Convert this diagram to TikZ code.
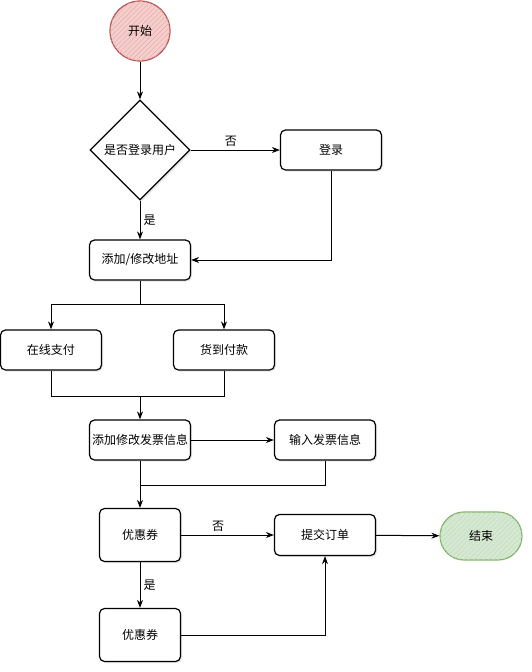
\documentclass[tikz,border=0pt]{standalone}
\usepackage{fontspec}
\newfontfamily\cjk{Noto Sans CJK SC}
\usetikzlibrary{arrows.meta,shapes.geometric,shadows,patterns.meta}
\definecolor{startfill}{HTML}{F8CECC}
\definecolor{startline}{HTML}{B85450}
\definecolor{endfill}{HTML}{D5E8D4}
\definecolor{endline}{HTML}{82B366}
\tikzset{
  txt/.style={font=\cjk\fontsize{12}{14}\selectfont},
  shade/.style={drop shadow={opacity=0.2, shadow xshift=1.5pt, shadow yshift=-1.5pt}},
  stepbox/.style={txt, draw, line width=1.2pt, rounded corners=5pt, fill=white,
    minimum width=101pt, minimum height=40pt, inner sep=0pt, shade},
  couponbox/.style={stepbox, minimum width=81pt, minimum height=53pt},
  decision/.style={txt, diamond, draw, line width=1.2pt, fill=white, aspect=1,
    minimum width=100pt, minimum height=100pt, inner sep=0pt, shade},
  arr/.style={line width=1pt, -{Stealth[length=8pt,width=6pt]}},
  link/.style={line width=1pt},
  lbl/.style={txt, inner sep=3pt},
}
\begin{document}
\begin{tikzpicture}[x=1pt,y=-1pt]
\useasboundingbox (0,0) rectangle (532,672);

% terminals
\node[txt, circle, draw=startline, line width=1.2pt, fill=startfill,
      minimum size=60pt, inner sep=0pt,
      postaction={pattern={Lines[angle=45,distance=3.5pt,line width=0.6pt]}, pattern color=startline!45}]
      (start) at (140,31) {开始};
\node[txt, draw=endline, line width=1.2pt, fill=endfill, rounded corners=24pt,
      minimum width=82pt, minimum height=48pt, inner sep=0pt,
      postaction={pattern={Lines[angle=45,distance=3.5pt,line width=0.6pt]}, pattern color=endline!45}]
      (finish) at (481,536) {结束};

% process steps
\node[decision] (dec) at (140,150) {是否登录用户};
\node[stepbox] (login) at (331,150) {登录};
\node[stepbox] (addr) at (140,260) {添加/修改地址};
\node[stepbox] (online) at (51,350) {在线支付};
\node[stepbox] (cod) at (224,350) {货到付款};
\node[stepbox] (inv) at (140,440) {添加修改发票信息};
\node[stepbox] (inputinv) at (325,440) {输入发票信息};
\node[couponbox] (coupon1) at (140,535) {优惠券};
\node[stepbox, minimum height=41pt] (submit) at (325,535) {提交订单};
\node[couponbox] (coupon2) at (140,635) {优惠券};

% junction points
\coordinate (split) at (140,304);
\coordinate (merge) at (140,396);
\coordinate (merge2) at (140,485);

% connectors
\draw[arr] (start) -- (dec);
\draw[arr] (dec) -- node[lbl, above, pos=0.45] {否} (login);
\draw[arr] (dec) -- node[lbl, right, pos=0.5] {是} (addr);
\draw[arr] (login.south) |- (addr.east);
\draw[link] (addr.south) -- (split);
\draw[arr] (split) -| (online.north);
\draw[arr] (split) -| (cod.north);
\draw[link] (online.south) |- (merge);
\draw[link] (cod.south) |- (merge);
\draw[arr] (merge) -- (inv);
\draw[arr] (inv) -- (inputinv);
\draw[link] (inputinv.south) |- (merge2);
\draw[arr] (inv) -- (coupon1);
\draw[arr] (coupon1) -- node[lbl, above, pos=0.4] {否} (submit);
\draw[arr] (submit) -- (finish);
\draw[arr] (coupon1) -- node[lbl, right] {是} (coupon2);
\draw[arr] (coupon2.east) -| (submit.south);
\end{tikzpicture}
\end{document}
